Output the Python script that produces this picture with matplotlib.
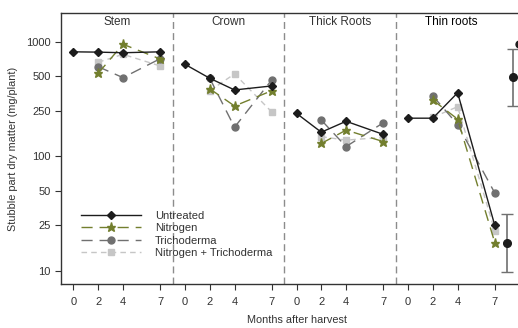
import numpy as np
import matplotlib
matplotlib.use("Agg")
import matplotlib.pyplot as plt

# ---- data ----
panels = ["Stem", "Crown", "Thick Roots", "Thin roots"]
months = [0, 2, 4, 7]
nan = np.nan
untreated = [
    [820, 815, 805, 820],
    [638, 482, 381, 413],
    [238, 163, 203, 156],
    [216, 216, 360, 25],
]
nitrogen = [
    [nan, 533, 955, 710],
    [nan, 390, 276, 375],
    [nan, 130, 170, 135],
    [nan, 311, 212, 17.7],
]
trichoderma = [
    [nan, 608, 488, 714],
    [nan, 482, 180, 466],
    [nan, 208, 122, 197],
    [nan, 338, 190, 48],
]
nitro_tricho = [
    [nan, 665, 780, 617],
    [nan, 375, 526, 245],
    [nan, 149, 139, 147],
    [nan, 220, 272, 22.5],
]
series_names = ["Untreated", "Nitrogen", "Trichoderma", "Nitrogen + Trichoderma"]
# error bars shown at the right edge (x in month units past last panel)
err_x = [35.0, 35.5]
err_y = [17.7, 492]
err_lo = [9.9, 276]
err_hi = [31.5, 869]
edge_dot_x = [35.95]
edge_dot_y = [965]
yticks = [10, 25, 50, 100, 250, 500, 1000]

# ---- styles ----
styles = [
    dict(color="#1c1c1c", ls="-", marker="D", ms=4.5, lw=1.0),
    dict(color="#737f2e", ls=(0, (8, 5)), marker="*", ms=6.5, lw=1.0),
    dict(color="#707070", ls=(0, (8, 5)), marker="o", ms=5, lw=1.0),
    dict(color="#c6c6c6", ls=(0, (4, 3)), marker="s", ms=4.2, lw=1.0),
]

plt.rcParams["font.family"] = ["Liberation Sans", "DejaVu Sans"]
fig = plt.figure(figsize=(5.18, 3.28), dpi=100)
ax = fig.add_axes([0.1178, 0.134, 1.027 - 0.1178, 0.9604 - 0.134])

offset = 9
all_series = [untreated, nitrogen, trichoderma, nitro_tricho]
order = [3, 2, 1, 0]
for si in order:
    data = all_series[si]
    st = styles[si]
    for p in range(4):
        xs = np.array(months) + offset * p
        ys = np.array(data[p], dtype=float)
        ax.plot(xs, ys, color=st["color"], ls=st["ls"], lw=st["lw"],
                marker=st["marker"], ms=st["ms"], mfc=st["color"], mec=st["color"],
                zorder=3 + (3 - si),
                label=series_names[si] if p == 0 else None)

# error bars
for x, y, lo, hi in zip(err_x, err_y, err_lo, err_hi):
    ax.errorbar([x], [y], yerr=[[y - lo], [hi - y]], fmt="o", color="#1c1c1c",
                ecolor="#707070", elinewidth=1.2, capsize=4, capthick=1.0, ms=5.5,
                zorder=6)
ax.plot(edge_dot_x, edge_dot_y, "o", color="#1c1c1c", ms=5, zorder=6)

# separators
for s in [8, 17, 26]:
    ax.axvline(s, color="#8c8c8c", lw=1.0, ls=(0, (5, 3)), zorder=1)

ax.set_yscale("log")
ax.set_ylim(7.7, 1790)
ax.set_xlim(-1, 37)
ax.set_yticks(yticks)
ax.set_yticklabels([str(v) for v in yticks])
ax.yaxis.set_minor_locator(matplotlib.ticker.NullLocator())

xt = [m + offset * p for p in range(4) for m in months]
ax.set_xticks(xt)
ax.set_xticklabels([str(m) for p in range(4) for m in months])
ax.tick_params(axis="both", labelsize=8, colors="#333333", length=4, width=0.8,
               direction="out")
ax.tick_params(axis="x", pad=5)

for sp in ["left", "bottom", "top"]:
    ax.spines[sp].set_color("#333333")
    ax.spines[sp].set_linewidth(1.0)
ax.spines["right"].set_visible(False)

for p, name in enumerate(panels):
    ax.text(3.5 + offset * p, 0.967, name, transform=ax.get_xaxis_transform(),
            ha="center", va="center", fontsize=8.5,
            color="#000000" if p == 3 else "#333333")

ax.set_xlabel("Months after harvest", fontsize=7.8, color="#333333", labelpad=6)
ax.set_ylabel("Stubble part dry matter (mg/plant)", fontsize=7.8, color="#333333",
              labelpad=6)

handles, labels = ax.get_legend_handles_labels()
hmap = dict(zip(labels, handles))
leg = ax.legend([hmap[n] for n in series_names], series_names, loc="upper left",
                bbox_to_anchor=(0.018, 0.31), frameon=False, fontsize=8,
                handlelength=5.4, handletextpad=1.3, labelspacing=0.2,
                borderaxespad=0.6)
for t in leg.get_texts():
    t.set_color("#333333")

fig.savefig("out.png", dpi=100)
